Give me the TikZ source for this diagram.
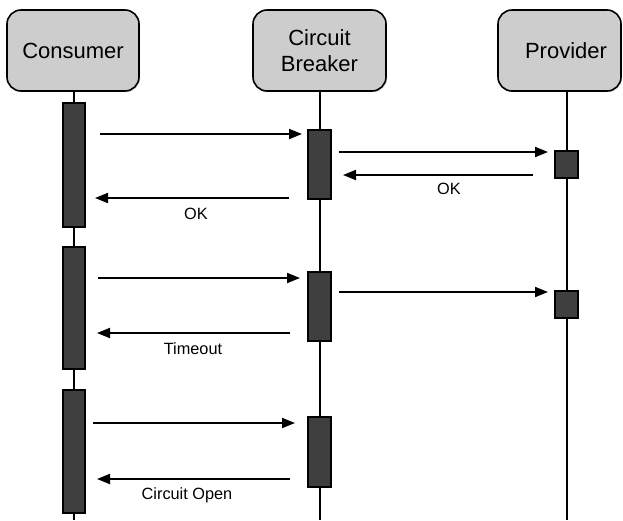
\documentclass[tikz,border=0pt]{standalone}
\usepackage{fontspec}
\setmainfont{Liberation Sans}
\usetikzlibrary{arrows.meta,shadows}
\definecolor{headfill}{HTML}{CDCDCD}
\definecolor{barfill}{HTML}{3F3F3F}
\tikzset{
  head/.style={draw=black, line width=1.6pt, fill=headfill, rounded corners=14pt,
    inner sep=0pt, align=center, font=\fontsize{22}{26}\selectfont,
    drop shadow={opacity=0.25, shadow xshift=1.2pt, shadow yshift=-1.2pt}},
  headtext/.style={inner sep=0pt, font=\fontsize{22}{26}\selectfont},
  life/.style={draw=black, line width=1.4pt},
  actbar/.style={draw=black, line width=1.4pt, fill=barfill, inner sep=0pt,
    drop shadow={opacity=0.2, shadow xshift=1pt, shadow yshift=-1pt}},
  msg/.style={draw=black, line width=1.9pt, -{Triangle[length=13pt,width=10pt]}},
  lbl/.style={inner sep=0pt, anchor=base, font=\fontsize{16.3}{19}\selectfont},
}
\begin{document}
\begin{tikzpicture}[x=1pt,y=-1pt]
\useasboundingbox (0,0) rectangle (623,520);
\clip (0,0) rectangle (623,520);
% header boxes
\node[head, minimum width=132pt, minimum height=81pt] (cons) at (73,50.5) {Consumer};
\node[head, minimum width=133pt, minimum height=81pt] (cb) at (319.5,50.5) {Circuit\\Breaker};
\node[head, minimum width=123pt, minimum height=81pt] (provbox) at (559.5,50.5) {};
\node[headtext] (prov) at (566,50.5) {Provider};
% lifeline ends
\coordinate (consE) at (74,520);
\coordinate (cbE) at (320,520);
\coordinate (provE) at (567,520);
\coordinate (consS) at (74,91);
\coordinate (cbS) at (320,91);
\coordinate (provS) at (567,91);
\draw[life] (consS) -- (consE);
\draw[life] (cbS) -- (cbE);
\draw[life] (provS) -- (provE);
% activation bars
\node[actbar, minimum width=22pt, minimum height=124pt] (c1) at (74,165) {};
\node[actbar, minimum width=22pt, minimum height=122pt] (c2) at (74,308) {};
\node[actbar, minimum width=22pt, minimum height=123pt] (c3) at (74,451.5) {};
\node[actbar, minimum width=23pt, minimum height=69pt] (b1) at (319.5,164.5) {};
\node[actbar, minimum width=23pt, minimum height=69pt] (b2) at (319.5,306.5) {};
\node[actbar, minimum width=23pt, minimum height=70pt] (b3) at (319.5,452) {};
\node[actbar, minimum width=23pt, minimum height=27pt] (p1) at (566.5,164.5) {};
\node[actbar, minimum width=23pt, minimum height=27pt] (p2) at (566.5,304.5) {};
% message end points
\coordinate (m1s) at (100,134);  \coordinate (m1e) at (302,134);
\coordinate (m2s) at (339,152);  \coordinate (m2e) at (548,152);
\coordinate (m3s) at (533,175);  \coordinate (m3e) at (343,175);
\coordinate (m4s) at (289,198);  \coordinate (m4e) at (95,198);
\coordinate (m5s) at (98,278);   \coordinate (m5e) at (300,278);
\coordinate (m6s) at (339,292);  \coordinate (m6e) at (548,292);
\coordinate (m7s) at (290,333);  \coordinate (m7e) at (97,333);
\coordinate (m8s) at (93,423);   \coordinate (m8e) at (295,423);
\coordinate (m9s) at (290,479);  \coordinate (m9e) at (97,479);
\draw[msg] (m1s) -- (m1e);
\draw[msg] (m2s) -- (m2e);
\draw[msg] (m3s) -- (m3e);
\draw[msg] (m4s) -- (m4e);
\draw[msg] (m5s) -- (m5e);
\draw[msg] (m6s) -- (m6e);
\draw[msg] (m7s) -- (m7e);
\draw[msg] (m8s) -- (m8e);
\draw[msg] (m9s) -- (m9e);
% labels
\node[lbl] (ok2) at (449,194) {OK};
\node[lbl] (ok1) at (196,219) {OK};
\node[lbl] (tmo) at (193,354) {Timeout};
\node[lbl] (copen) at (187,499) {Circuit Open};
\end{tikzpicture}
\end{document}
